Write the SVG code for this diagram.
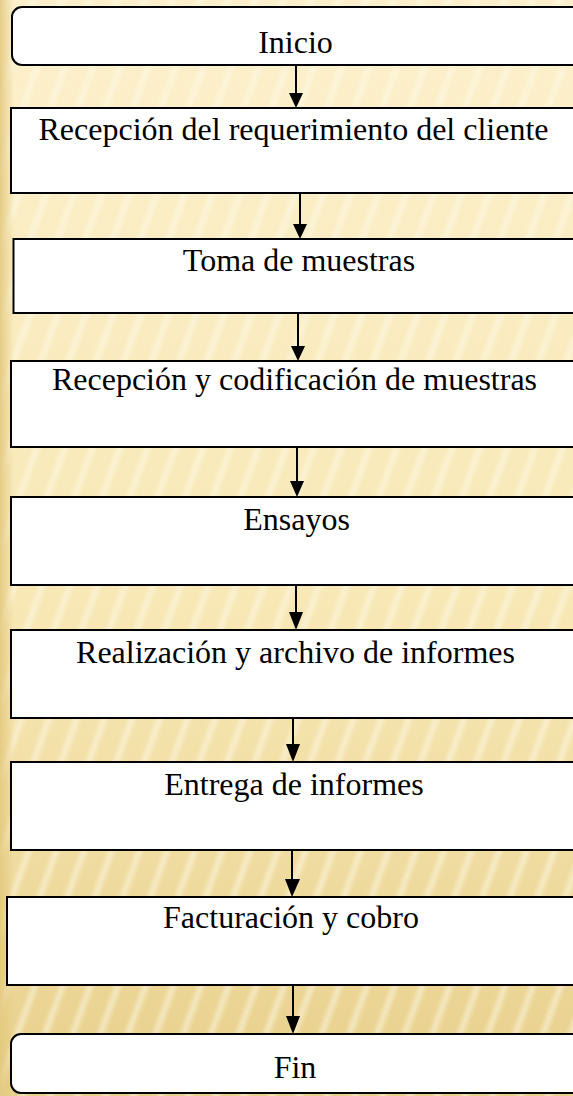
<svg xmlns="http://www.w3.org/2000/svg" width="573" height="1096" viewBox="0 0 573 1096">
<style>
.box{fill:#fff;stroke:#000;stroke-width:2}
.lbl{font-family:"Liberation Serif","Times New Roman",serif;font-size:32px;fill:#000;text-anchor:middle}
.con{stroke:#000;stroke-width:2;fill:none}
</style>
<defs>
<linearGradient id="bg" x1="0" y1="0" x2="0" y2="1">
<stop offset="0" stop-color="#FCF0CC"/>
<stop offset="0.55" stop-color="#F8E8B6"/>
<stop offset="1" stop-color="#E8D08C"/>
</linearGradient>
<linearGradient id="lb" x1="0" y1="0" x2="1" y2="0">
<stop offset="0" stop-color="#E3C97F" stop-opacity="0.9"/>
<stop offset="1" stop-color="#E3C97F" stop-opacity="0"/>
</linearGradient>
<linearGradient id="sg" x1="0" y1="0" x2="1" y2="0">
<stop offset="0" stop-color="#FFFBEA" stop-opacity="0"/>
<stop offset="0.5" stop-color="#FFFBEA" stop-opacity="0.5"/>
<stop offset="1" stop-color="#FFFBEA" stop-opacity="0"/>
</linearGradient>
<pattern id="st" width="26" height="26" patternUnits="userSpaceOnUse" patternTransform="rotate(20)">
<rect x="0" y="0" width="12" height="26" fill="url(#sg)"/>
</pattern>
</defs>
<rect width="573" height="1096" fill="url(#bg)"/>
<rect width="573" height="1096" fill="url(#st)"/>
<rect width="14" height="1096" fill="url(#lb)"/>

<g id="connectors">
<line class="con" x1="296" y1="65" x2="296" y2="95"/><path d="M289,93 L303,93 L296,108 z"/>
<line class="con" x1="300" y1="193" x2="300" y2="226"/><path d="M293,224 L307,224 L300,239 z"/>
<line class="con" x1="298" y1="313" x2="298" y2="348"/><path d="M291,346 L305,346 L298,361 z"/>
<line class="con" x1="297" y1="447" x2="297" y2="483"/><path d="M290,481 L304,481 L297,497 z"/>
<line class="con" x1="296" y1="585" x2="296" y2="614"/><path d="M289,612 L303,612 L296,630 z"/>
<line class="con" x1="293" y1="718" x2="293" y2="746"/><path d="M286,744 L300,744 L293,762 z"/>
<line class="con" x1="292" y1="850" x2="292" y2="881"/><path d="M285,879 L300,879 L292,897 z"/>
<line class="con" x1="293" y1="985" x2="293" y2="1018"/><path d="M286,1016 L300,1016 L293,1034 z"/>
</g>

<g id="n1"><rect class="box" x="12" y="7" width="570" height="58" rx="10"/><text class="lbl" x="295.5" y="53">Inicio</text></g>
<g id="n2"><rect class="box" x="11" y="108" width="570" height="85"/><text class="lbl" x="293.5" y="140">Recepción del requerimiento del cliente</text></g>
<g id="n3"><rect class="box" x="13.5" y="239" width="570" height="74"/><text class="lbl" x="299" y="271">Toma de muestras</text></g>
<g id="n4"><rect class="box" x="11" y="361" width="570" height="86"/><text class="lbl" x="294.5" y="390">Recepción y codificación de muestras</text></g>
<g id="n5"><rect class="box" x="11" y="497" width="570" height="88"/><text class="lbl" x="296.5" y="530">Ensayos</text></g>
<g id="n6"><rect class="box" x="11" y="630" width="570" height="88"/><text class="lbl" x="295.5" y="663">Realización y archivo de informes</text></g>
<g id="n7"><rect class="box" x="11" y="762" width="570" height="88"/><text class="lbl" x="294" y="795">Entrega de informes</text></g>
<g id="n8"><rect class="box" x="7" y="897" width="575" height="88"/><text class="lbl" x="291" y="928">Facturación y cobro</text></g>
<g id="n9"><rect class="box" x="11" y="1034" width="571" height="59" rx="10"/><text class="lbl" x="295" y="1078">Fin</text></g>
</svg>
